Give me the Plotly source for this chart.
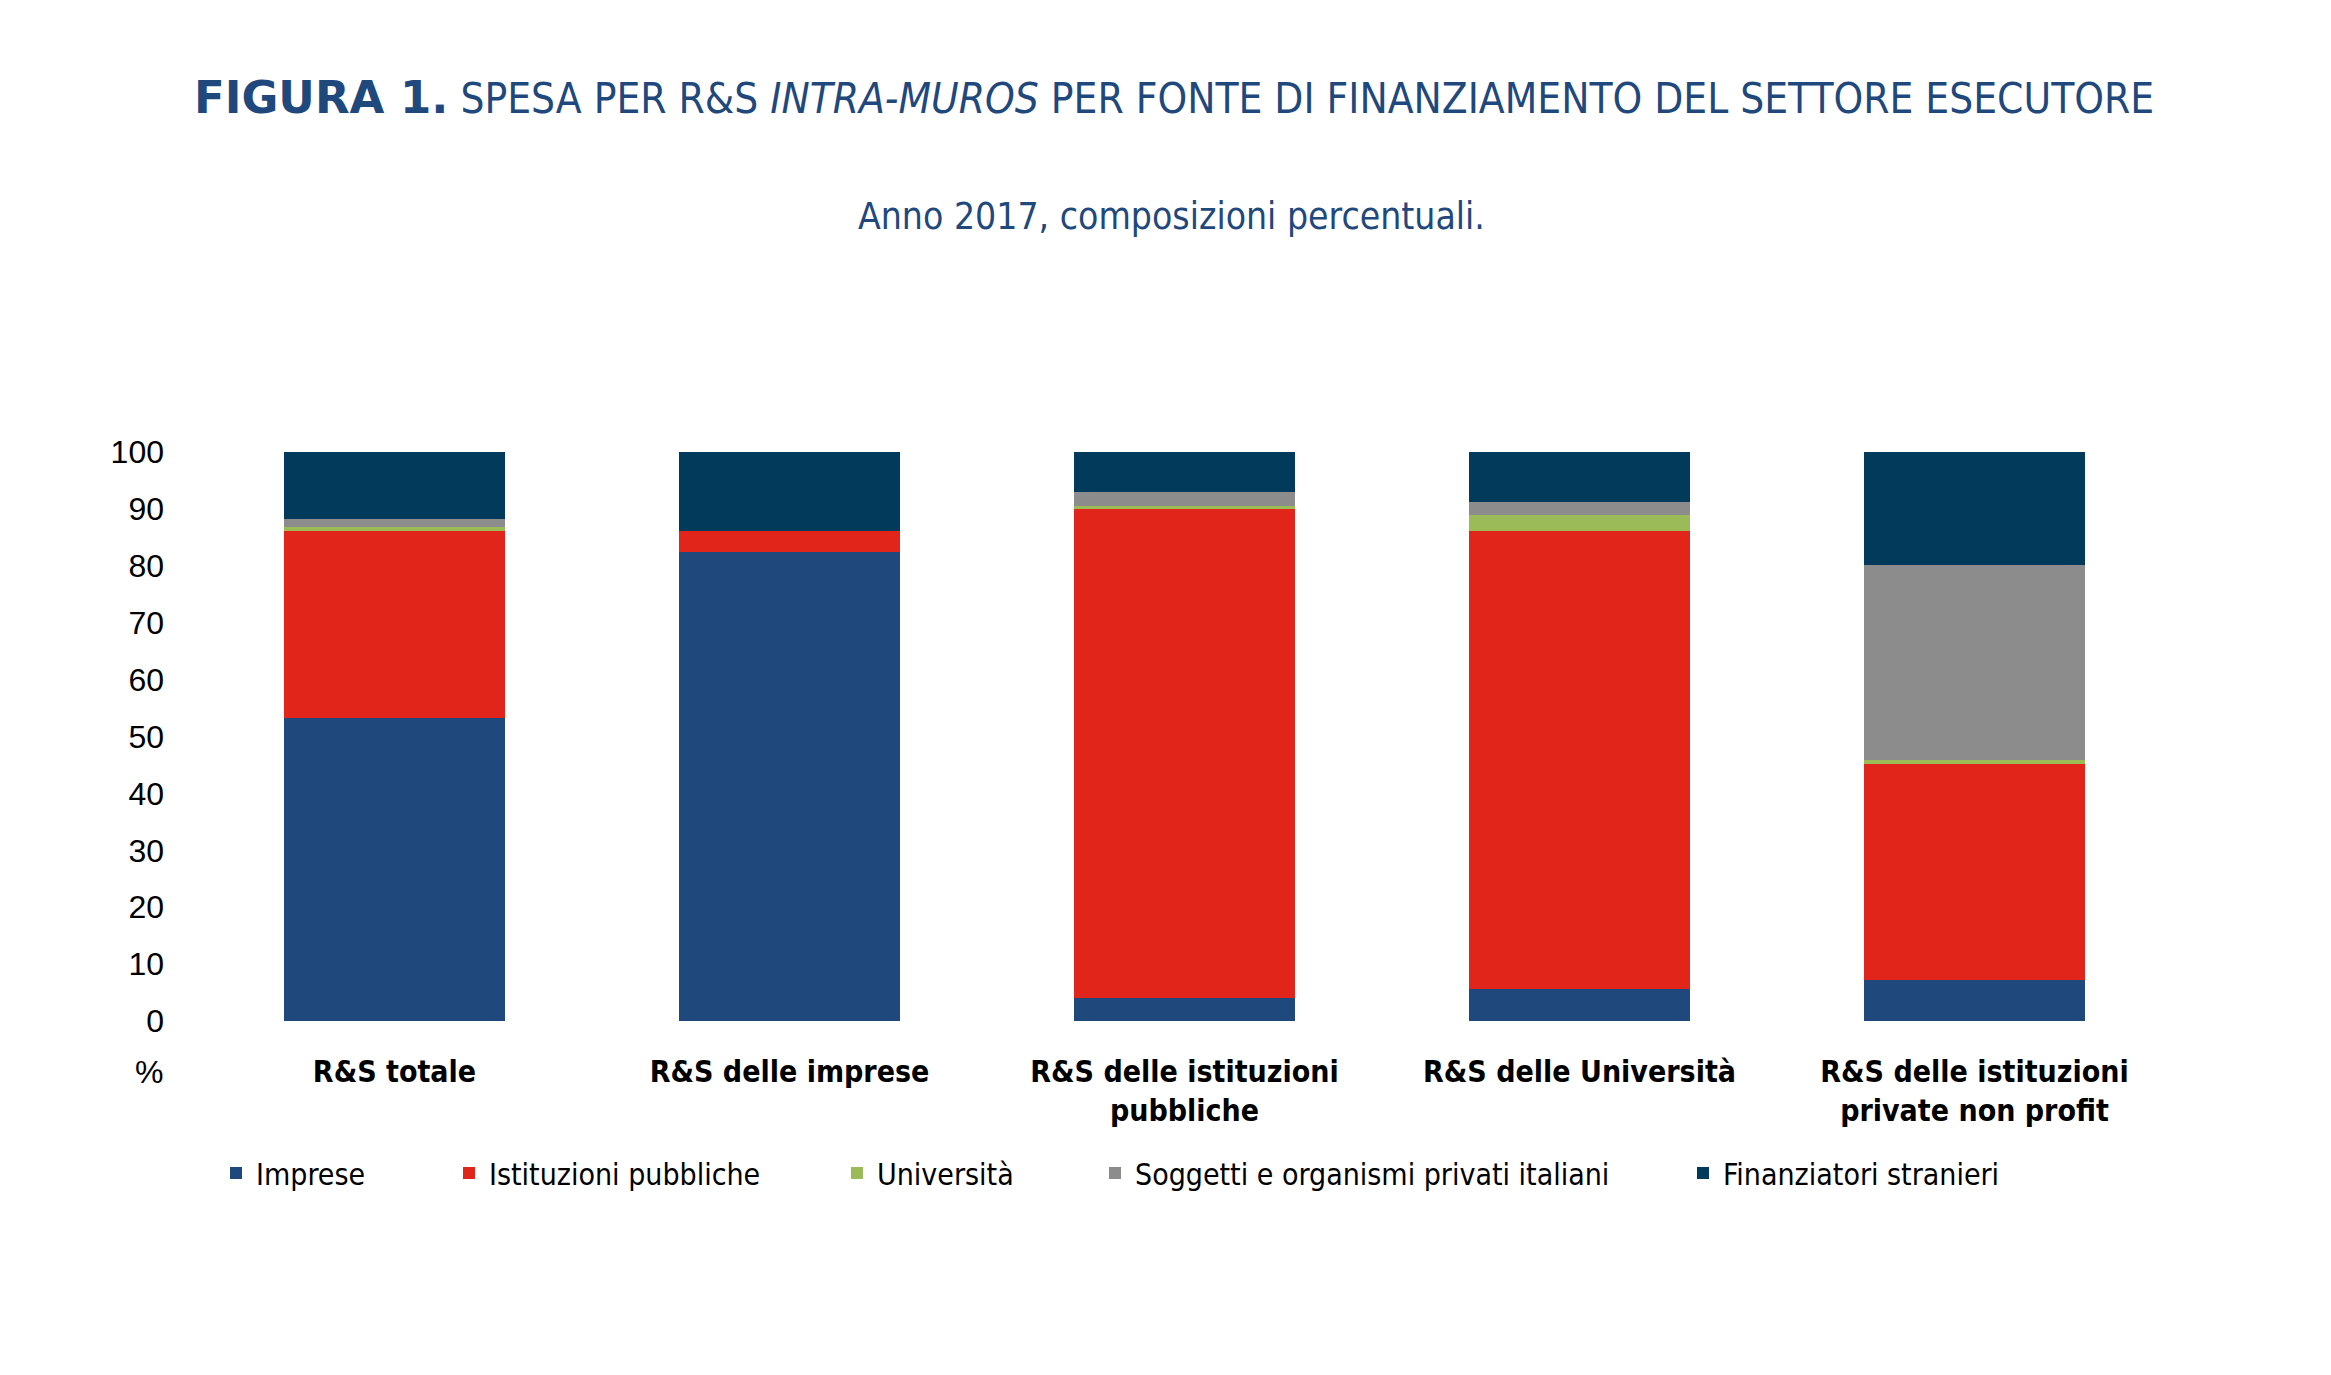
import plotly.graph_objects as go

categories = [
    "R&S totale",
    "R&S delle imprese",
    "R&S delle istituzioni<br>pubbliche",
    "R&S delle Università",
    "R&S delle istituzioni<br>private non profit",
]
series_names = [
    "Imprese",
    "Istituzioni pubbliche",
    "Università",
    "Soggetti e organismi privati italiani",
    "Finanziatori stranieri",
]
imprese = [53.2, 82.4, 4.1, 5.7, 7.2]
istituzioni_pubbliche = [32.9, 3.8, 85.8, 80.4, 38.0]
universita = [0.7, 0.0, 0.6, 2.9, 0.6]
soggetti_privati = [1.5, 0.0, 2.4, 2.3, 34.4]
finanziatori_stranieri = [11.7, 13.8, 7.1, 8.7, 19.8]
y_ticks = [0, 10, 20, 30, 40, 50, 60, 70, 80, 90, 100]

series_values = [imprese, istituzioni_pubbliche, universita, soggetti_privati, finanziatori_stranieri]
colors = ["#1F497D", "#E1251B", "#9BBB59", "#8C8C8C", "#023A5C"]

NARROW = "DejaVu Sans Condensed, Liberation Sans Narrow, sans-serif"
REG = "Liberation Sans, Arial, sans-serif"
BLUE = "#1F497D"

# page body has an 8px margin: work in page pixels and convert
OFF = 8
PAGE_W, PAGE_H = 2331, 1375
W, H = PAGE_W - 2 * OFF, PAGE_H - 2 * OFF
plot_left, plot_right, plot_top, plot_bottom = 197, 2172, 452, 1021  # page px
L = plot_left - OFF
R = W - (plot_right - OFF)
T = plot_top - OFF
B = H - (plot_bottom - OFF)
pw = plot_right - plot_left
ph = plot_bottom - plot_top

def px_to_paper_x(px):
    return (px - plot_left) / pw

def px_to_paper_y(py):
    return (plot_bottom - py) / ph

fig = go.Figure()
legend_ids = ["legend", "legend2", "legend3", "legend4", "legend5"]
legend_marker_px = [235, 468, 856, 1114, 1702]
for name, vals, col, lid in zip(series_names, series_values, colors, legend_ids):
    fig.add_trace(go.Bar(
        x=categories, y=vals, name=name,
        marker=dict(color=col, line=dict(width=0)),
        legend=lid,
    ))

layout_legends = {}
for lid, mpx in zip(legend_ids, legend_marker_px):
    layout_legends[lid] = dict(
        x=px_to_paper_x(mpx - 19), xanchor="left",
        y=px_to_paper_y(1173), yanchor="middle",
        orientation="h",
        font=dict(family=NARROW, size=30, color="#000000"),
        bgcolor="rgba(0,0,0,0)", borderwidth=0,
        itemwidth=30,
    )

fig.update_layout(
    width=W, height=H,
    margin=dict(l=L, r=R, t=T, b=B, pad=0),
    plot_bgcolor="white", paper_bgcolor="white",
    barmode="stack", bargap=0.443,
    showlegend=True,
    title=dict(
        text="<span style=\"font-family:'DejaVu Sans';font-weight:bold;font-size:45px\">FIGURA 1.</span> "
             "SPESA PER R&S <i>INTRA-MUROS</i> PER FONTE DI FINANZIAMENTO DEL SETTORE ESECUTORE",
        font=dict(family=NARROW, size=42, color=BLUE),
        x=(1174 - OFF) / W, xanchor="center", xref="container",
        y=1 - (98 - OFF) / H, yanchor="middle", yref="container",
    ),
    xaxis=dict(
        showgrid=False, showline=False, zeroline=False,
        ticks="", ticklabelstandoff=30,
        tickfont=dict(family=NARROW, size=30, color="#000000", weight="bold"),
    ),
    yaxis=dict(
        range=[0, 100], tickvals=y_ticks, ticktext=[str(v) for v in y_ticks],
        showgrid=False, showline=False, zeroline=False,
        ticks="", ticklabelstandoff=32,
        tickfont=dict(family=REG, size=32, color="#000000"),
    ),
    annotations=[
        dict(text="Anno 2017, composizioni percentuali.", xref="paper", yref="paper",
             x=px_to_paper_x(1171.5), y=px_to_paper_y(216), xanchor="center", yanchor="middle",
             showarrow=False, font=dict(family=NARROW, size=37, color=BLUE)),
        dict(text="%", xref="paper", yref="paper",
             x=px_to_paper_x(165), y=px_to_paper_y(1072), xanchor="right", yanchor="middle",
             showarrow=False, font=dict(family=REG, size=32, color="#000000")),
    ],
    **layout_legends,
)

fig.write_html("out.html")
